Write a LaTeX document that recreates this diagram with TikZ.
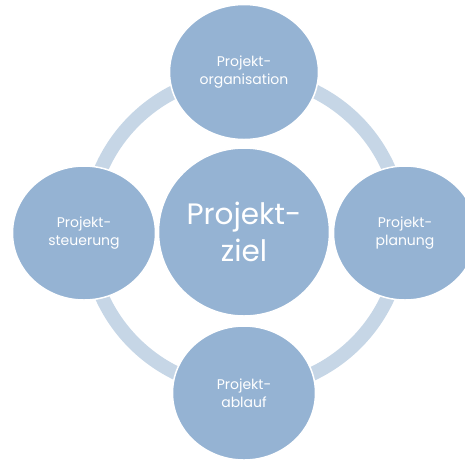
\documentclass[tikz,border=0pt]{standalone}
\usepackage{fontspec}
\setmainfont{Poppins}
\usetikzlibrary{shapes.geometric}
\definecolor{circfill}{HTML}{95B3D3}
\definecolor{ringcol}{HTML}{C6D6E6}
\begin{document}
\begin{tikzpicture}[x=1pt,y=-1pt,
  bubble/.style={ellipse, fill=circfill, draw=white, line width=1.5pt, text=white, align=center, inner sep=0pt},
  small/.style={bubble, minimum width=143pt, minimum height=134pt, font=\fontsize{14}{18.5}\selectfont},
  big/.style={bubble, minimum width=171pt, minimum height=168pt, font=\fontsize{29.5}{37}\selectfont}]
\useasboundingbox (0,0) rectangle (465,459);
\begin{scope}
\clip (0,0) rectangle (465,459);
\coordinate (ringc) at (245,232);
\draw[ringcol, line width=14pt] (ringc) circle[radius=157];
\node[small, minimum width=149pt, minimum height=135pt] (org) at (244,72) {Projekt-\\organisation};
\node[small] (steu) at (84,233) {Projekt-\\steuerung};
\node[small] (plan) at (405,233) {Projekt-\\planung};
\node[small] (abl) at (244,393) {Projekt-\\ablauf};
\node[big] (ziel) at (244,232) {Projekt-\\ziel};
\end{scope}
\end{tikzpicture}
\end{document}
